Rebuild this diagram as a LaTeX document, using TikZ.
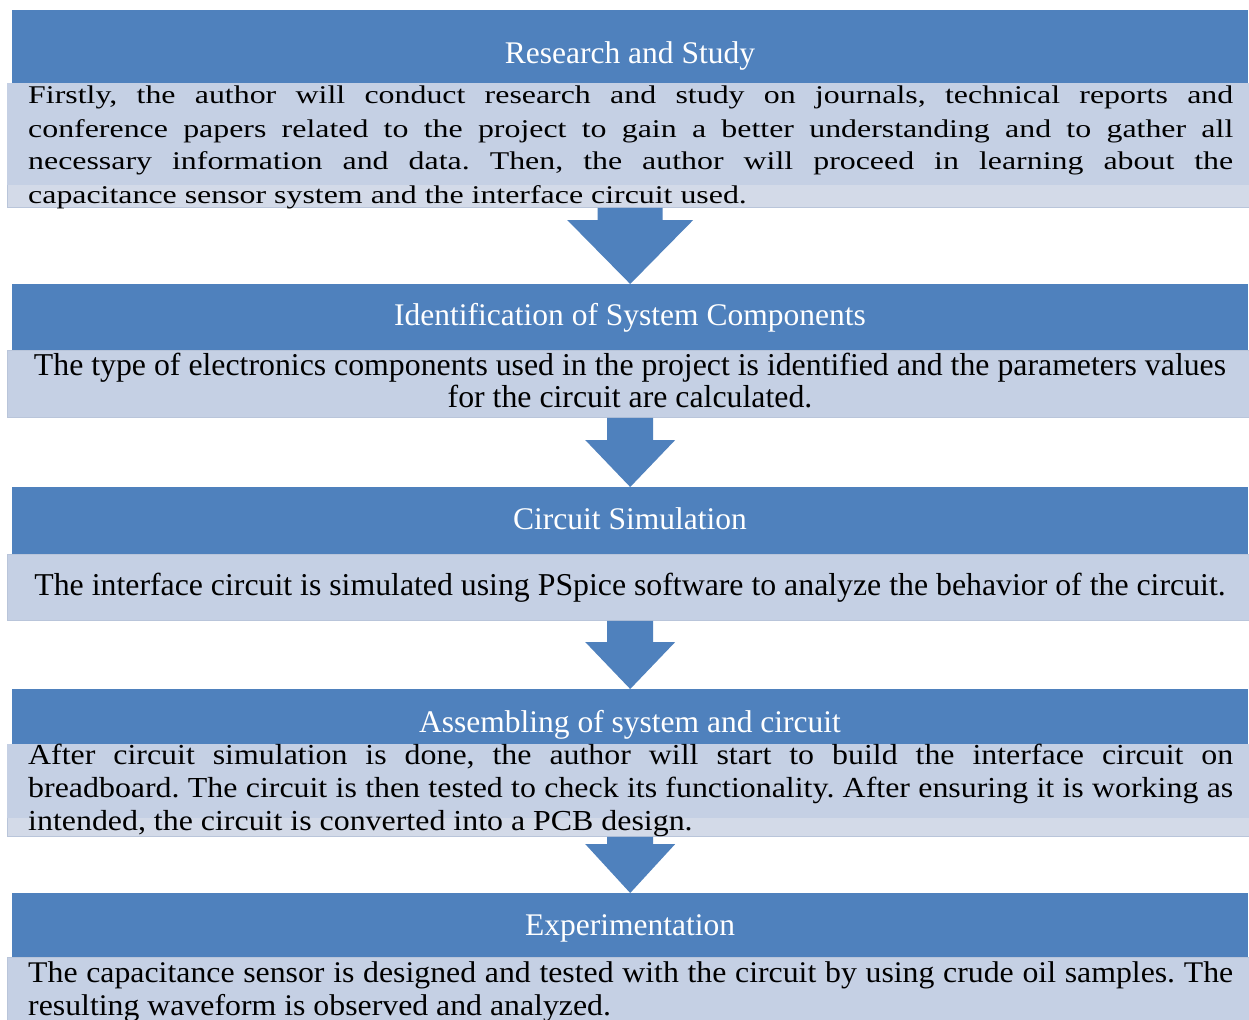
\documentclass[tikz,border=0pt]{standalone}
\usepackage{fontspec}
\setmainfont{Liberation Serif}
\newfontfamily\fA[FakeStretch=1.25]{Liberation Serif}
\newfontfamily\fD[FakeStretch=1.10]{Liberation Serif}
\newfontfamily\fE[FakeStretch=1.06]{Liberation Serif}
\usetikzlibrary{calc}
\frenchspacing
\definecolor{hblue}{HTML}{4F81BD}
\definecolor{bodyc}{HTML}{C5D0E4}
\definecolor{bodyl}{HTML}{D3DAE8}
\definecolor{bedge}{HTML}{B9C5DA}
\newcommand\jl[1]{\makebox[1205pt][s]{#1}}
\newcommand\blockarrow[5]{%
  \fill[arr] let \p1=(#1), \p2=(#2) in
  (\x2-#3pt,\y1) -- (\x2-#3pt,\y2+#5pt) -- (\x2-#4pt,\y2+#5pt) -- (\x2,\y2)
  -- (\x2+#4pt,\y2+#5pt) -- (\x2+#3pt,\y2+#5pt) -- (\x2+#3pt,\y1) -- cycle;}
\tikzset{
  hdr/.style={rectangle, fill=hblue, draw=none, inner sep=0pt, anchor=north west, minimum width=1236pt},
  bodybox/.style={rectangle, fill=bodyc, draw=bedge, line width=0.8pt, inner sep=0pt, anchor=north west, minimum width=1244pt},
  htext/.style={anchor=base, inner sep=0pt, text=white, font=\fontsize{31.5}{37}\selectfont},
  jtext/.style={anchor=base west, inner sep=0pt, align=left},
  ctext/.style={anchor=base, inner sep=0pt, align=center},
  arr/.style={fill=hblue},
}
\begin{document}
\begin{tikzpicture}[x=1pt,y=-1pt]
\clip (0,0) rectangle (1249,1019);
\fill[white] (0,0) rectangle (1249,1019);
% boxes (geometry)
\node[hdr, minimum height=73pt] (h1) at (12,10) {};
\node[hdr, minimum height=66pt] (h2) at (12,284) {};
\node[hdr, minimum height=67pt] (h3) at (12,487) {};
\node[hdr, minimum height=55pt] (h4) at (12,689) {};
\node[hdr, minimum height=64pt] (h5) at (12,893) {};
\node[bodybox, fill=bodyl, minimum height=124pt] (b1) at (7,83) {};
\node[bodybox, minimum height=67pt] (b2) at (7,350) {};
\node[bodybox, minimum height=66pt] (b3) at (7,554) {};
\node[bodybox, fill=bodyl, minimum height=92pt] (b4) at (7,744) {};
\node[bodybox, minimum height=90pt] (b5) at (7,957) {};
\fill[bodyc] ($(b1.north west)+(0.4,0.4)$) rectangle ($(b1.north east)+(-0.4,102)$);
\fill[bodyc] ($(b4.north west)+(0.4,0.4)$) rectangle ($(b4.north east)+(-0.4,74)$);
% redraw headers on top
\fill[hblue] (h1.north west) rectangle (h1.south east);
\fill[hblue] (h2.north west) rectangle (h2.south east);
\fill[hblue] (h3.north west) rectangle (h3.south east);
\fill[hblue] (h4.north west) rectangle (h4.south east);
\fill[hblue] (h5.north west) rectangle (h5.south east);
% arrows
\blockarrow{b1.south}{h2.north}{32.5}{63}{64}
\blockarrow{b2.south}{h3.north}{23}{45}{47}
\blockarrow{b3.south}{h4.north}{23}{45}{47}
\blockarrow{b4.south}{h5.north}{23}{45}{49}
% header texts
\node[htext] (ht1) at (630,64) {Research and Study};
\node[htext] (ht2) at (630,325) {Identification of System Components};
\node[htext] (ht3) at (630,529) {Circuit Simulation};
\node[htext] (ht4) at (630,732) {Assembling of system and circuit};
\node[htext] (ht5) at (630,935) {Experimentation};
% body texts (anchored at the baseline of their last line)
\node[jtext, font=\fA\fontsize{25.5}{33}\selectfont] (bt1) at (28,203) {%
\jl{Firstly, the author will conduct research and study on journals, technical reports and}\\
\jl{conference papers related to the project to gain a better understanding and to gather all}\\
\jl{necessary information and data. Then, the author will proceed in learning about the}\\
capacitance sensor system and the interface circuit used.};
\node[ctext, font=\fontsize{31.8}{32}\selectfont] (bt2) at (630,407) {%
The type of electronics components used in the project is identified and the parameters values\\
for the circuit are calculated.};
\node[ctext, font=\fontsize{31.8}{32}\selectfont] (bt3) at (630,595) {%
The interface circuit is simulated using PSpice software to analyze the behavior of the circuit.};
\node[jtext, font=\fD\fontsize{29}{33}\selectfont] (bt4) at (28,830) {%
\jl{After circuit simulation is done, the author will start to build the interface circuit on}\\
\jl{breadboard. The circuit is then tested to check its functionality. After ensuring it is working as}\\
intended, the circuit is converted into a PCB design.};
\node[jtext, font=\fE\fontsize{30}{33}\selectfont] (bt5) at (28,1015) {%
\jl{The capacitance sensor is designed and tested with the circuit by using crude oil samples. The}\\
resulting waveform is observed and analyzed.};
\end{tikzpicture}
\end{document}
